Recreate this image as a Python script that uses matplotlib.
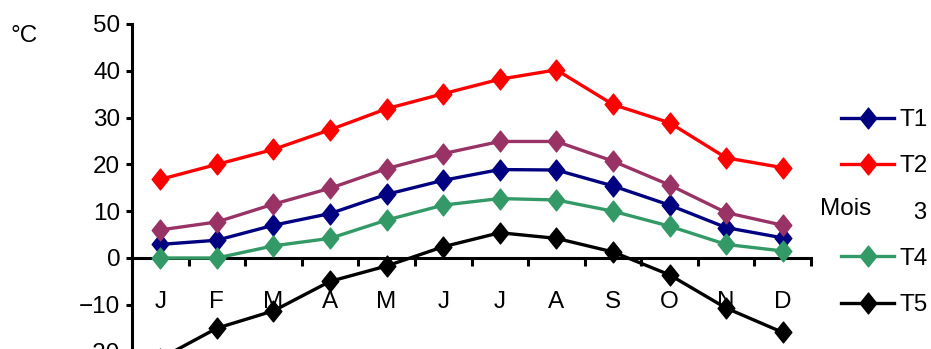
import matplotlib
matplotlib.use("Agg")
import matplotlib.pyplot as plt
import numpy as np
from matplotlib.path import Path

# Monthly temperatures (°C) for five stations
months = ["J", "F", "M", "A", "M", "J", "J", "A", "S", "O", "N", "D"]
series_names = ["T1", "T2", "T3", "T4", "T5"]
t1 = [2.9, 3.8, 7.0, 9.5, 13.6, 16.6, 18.9, 18.8, 15.4, 11.3, 6.5, 4.3]
t2 = [16.8, 20.0, 23.2, 27.4, 31.9, 35.1, 38.2, 40.2, 32.8, 28.9, 21.4, 19.3]
t3 = [6.0, 7.7, 11.5, 14.9, 19.1, 22.3, 24.9, 24.9, 20.7, 15.6, 9.7, 7.0]
t4 = [0.0, 0.0, 2.6, 4.2, 8.1, 11.3, 12.7, 12.4, 10.0, 6.8, 2.9, 1.5]
t5 = [-21.5, -15.0, -11.3, -5.0, -1.7, 2.4, 5.4, 4.2, 1.3, -3.6, -10.7, -15.9]
series = [t1, t2, t3, t4, t5]
colors = ["#000080", "#FF0000", "#993366", "#339966", "#000000"]

plt.rcParams["font.family"] = ["Liberation Sans", "DejaVu Sans"]
FS = 17.5

W, H = 931, 349
fig = plt.figure(figsize=(W / 100, H / 100), dpi=100)

# axes runs below the bottom edge of the figure, so the lower part is cut off
ymin, ymax = -30, 50
top_px, zero_px = 24, 258
ppu = (zero_px - top_px) / ymax
bottom_px = zero_px - ymin * ppu
left_px, right_px = 132, 811
ax = fig.add_axes([left_px / W, (H - bottom_px) / H,
                   (right_px - left_px) / W, (bottom_px - top_px) / H])

# tall diamond marker
diamond = Path([(0, 1), (0.8, 0), (0, -1), (-0.8, 0), (0, 1)],
               [Path.MOVETO, Path.LINETO, Path.LINETO, Path.LINETO, Path.CLOSEPOLY])

x = np.arange(len(months))
for name, vals, c in zip(series_names, series, colors):
    ax.plot(x, vals, color=c, lw=2.4, marker=diamond, markersize=15,
            markerfacecolor=c, markeredgecolor=c, label=name, zorder=3)

ax.set_xlim(-0.5, len(months) - 0.5)
ax.set_ylim(ymin, ymax)

for s in ("top", "right"):
    ax.spines[s].set_visible(False)
ax.spines["bottom"].set_position(("data", 0))
for s in ("left", "bottom"):
    ax.spines[s].set_linewidth(2.2)

ax.set_yticks(np.arange(-20, 51, 10))
ax.tick_params(axis="y", direction="out", length=4.5, width=2.2, pad=4,
               labelsize=FS)

ax.set_xticks(np.arange(-0.5, len(months), 1))
ax.set_xticklabels([])
ax.set_xticks(x, minor=True)
ax.set_xticklabels(months, minor=True)
ax.tick_params(axis="x", which="major", direction="out", length=6, width=2.2)
ax.tick_params(axis="x", which="minor", length=0, pad=24, labelsize=FS)

leg = ax.legend(loc="upper left", bbox_to_anchor=(841 / W, (H - 109) / H),
                bbox_transform=fig.transFigure, frameon=False, fontsize=FS,
                handlelength=2.2, handletextpad=0.2, labelspacing=1.0,
                borderpad=0, borderaxespad=0)

fig.text(10 / W, (H - 36) / H, "°C", fontsize=FS, ha="left", va="center")

# axis title with an opaque background
fig.text(820 / W, (H - 209) / H, "Mois     ", fontsize=FS, ha="left",
         va="center", bbox=dict(boxstyle="square,pad=0.42", fc="white", ec="none"))

fig.savefig("out.png", dpi=100)
